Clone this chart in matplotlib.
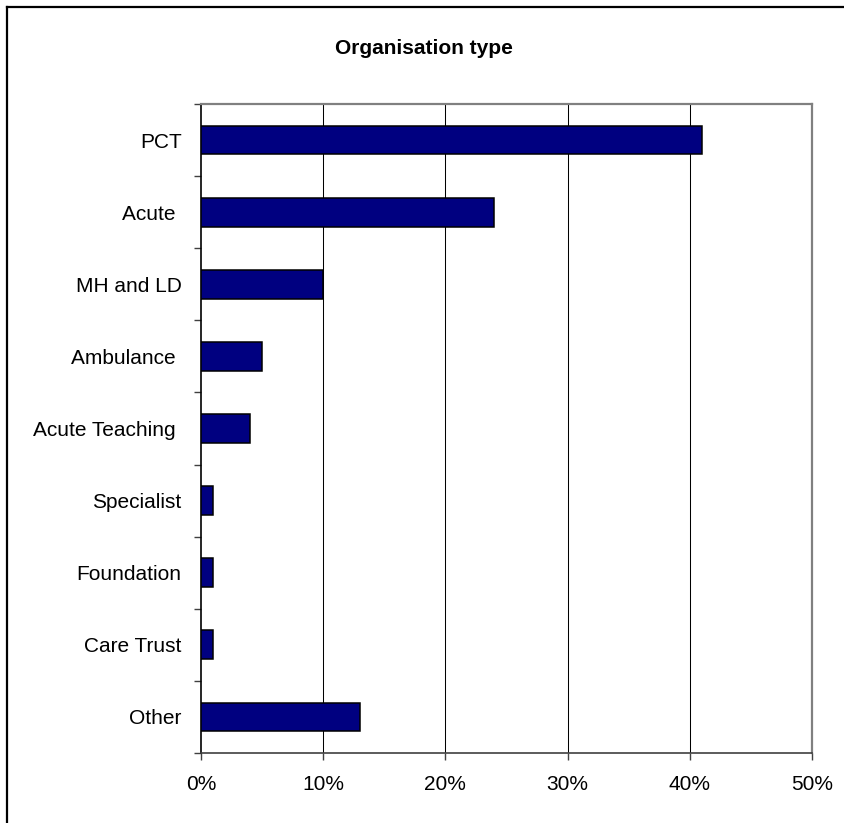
import matplotlib
matplotlib.use("Agg")
import matplotlib.pyplot as plt
from matplotlib.lines import Line2D
from matplotlib.ticker import FixedLocator, FuncFormatter
import numpy as np

plt.rcParams['font.family'] = ['Liberation Sans', 'DejaVu Sans']

# Organisation types (top to bottom) and their share of responses in percent
categories = ["PCT", "Acute ", "MH and LD", "Ambulance ", "Acute Teaching ",
              "Specialist", "Foundation", "Care Trust", "Other"]
shares = [41, 24, 10, 5, 4, 1, 1, 1, 13]
x_ticks = [0, 10, 20, 30, 40, 50]

W, H = 845, 823
fig = plt.figure(figsize=(W / 100, H / 100), dpi=100)
fig.patch.set_facecolor("white")

# plot area in pixel coordinates
left_px, right_px, top_px, bottom_px = 201, 812, 104, 753
ax = fig.add_axes([left_px / W, 1 - bottom_px / H,
                   (right_px - left_px) / W, (bottom_px - top_px) / H])

pos = np.arange(len(categories))
ax.barh(pos, shares, height=0.4, color="#000080", edgecolor="black",
        linewidth=1.1, zorder=3)

ax.set_xlim(0, 50)
ax.set_ylim(len(categories) - 0.5, -0.5)

# vertical gridlines
for v in x_ticks[1:-1]:
    ax.axvline(v, color="black", linewidth=0.75, zorder=1)

# x axis
ax.xaxis.set_major_locator(FixedLocator(x_ticks))
ax.xaxis.set_major_formatter(FuncFormatter(lambda v, p: f"{int(v)}%"))
ax.tick_params(axis="x", direction="out", length=5, width=1,
               color="#404040", pad=11, labelsize=15)

# y axis: tick marks on category boundaries, labels at category centres
ax.yaxis.set_major_locator(FixedLocator(np.arange(-0.5, len(categories), 1.0)))
ax.yaxis.set_major_formatter(FuncFormatter(lambda v, p: ""))
ax.yaxis.set_minor_locator(FixedLocator(pos))
ax.set_yticklabels(categories, minor=True)
ax.tick_params(axis="y", which="major", direction="out", length=5,
               width=1, color="#404040")
ax.tick_params(axis="y", which="minor", length=0, pad=14, labelsize=15)

for side in ("top", "right"):
    ax.spines[side].set_color("#808080")
    ax.spines[side].set_linewidth(1.6)
ax.spines["left"].set_color("black")
ax.spines["left"].set_linewidth(1.2)
ax.spines["bottom"].set_color("#404040")
ax.spines["bottom"].set_linewidth(1.2)

fig.text(424 / W, 1 - 49 / H, "Organisation type", ha="center", va="center",
         fontsize=15, fontweight="bold")

# chart frame (left and top edges)
fig.add_artist(Line2D([7.5 / W, 7.5 / W], [0, 1 - 7 / H], color="black",
                      linewidth=1.6, transform=fig.transFigure))
fig.add_artist(Line2D([7.5 / W, 1], [1 - 7 / H, 1 - 7 / H], color="black",
                      linewidth=1.6, transform=fig.transFigure))

fig.savefig("out.png", dpi=100)
